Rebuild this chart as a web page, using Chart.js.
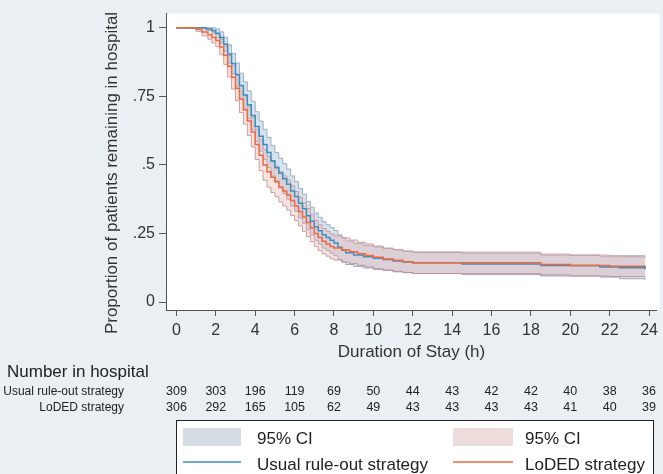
<!DOCTYPE html>
<html>
<head>
<meta charset="utf-8">
<script src="https://cdn.jsdelivr.net/npm/chart.js@4"></script>
<style>
  html, body { margin: 0; padding: 0; background: #eaeff3; }
  #wrap { width: 663px; height: 474px; }
</style>
</head>
<body>
<div id="wrap"><canvas id="km"></canvas></div>
<script>
// Kaplan-Meier estimates (hours, proportion still in hospital)
const usualTime = [0,1.5,1.8,2.0,2.2,2.4,2.6,2.8,3.0,3.2,3.4,3.6,3.8,4.0,4.2,4.4,4.6,4.8,5.0,5.2,5.4,5.6,5.8,6.0,6.2,6.4,6.6,6.8,7.0,7.2,7.4,7.6,7.8,8.0,8.2,8.4,8.6,9.0,9.5,10.0,10.5,11.0,11.5,12.0,14.5,18.5,21.5,22.5,23.8];
const usualSurv = [1,.997,.99,.98,.965,.94,.905,.87,.83,.79,.755,.72,.68,.64,.605,.575,.545,.515,.49,.47,.45,.43,.405,.385,.36,.34,.315,.295,.275,.26,.245,.235,.225,.215,.2,.19,.18,.172,.165,.16,.155,.15,.146,.143,.139,.133,.128,.125,.12];
const usualLow  = [1,.991,.979,.964,.945,.914,.872,.833,.788,.745,.707,.67,.628,.586,.55,.52,.49,.46,.435,.415,.395,.375,.35,.331,.306,.287,.263,.244,.225,.211,.197,.188,.178,.169,.155,.146,.137,.13,.124,.119,.115,.11,.107,.104,.1,.095,.091,.085,.08];
const usualHigh = [1,1,1,.996,.985,.966,.938,.907,.872,.835,.803,.77,.732,.694,.66,.63,.6,.57,.545,.525,.505,.485,.46,.439,.414,.393,.367,.346,.325,.309,.293,.282,.272,.261,.245,.234,.223,.214,.206,.201,.195,.19,.185,.182,.178,.171,.165,.165,.162];

const lodedTime = [0,1.0,1.3,1.6,1.8,2.0,2.2,2.4,2.6,2.8,3.0,3.2,3.4,3.6,3.8,4.0,4.2,4.4,4.6,4.8,5.0,5.2,5.4,5.6,5.8,6.0,6.2,6.4,6.6,6.8,7.0,7.2,7.4,7.6,7.8,8.0,8.4,8.8,9.2,9.6,10.0,10.5,11.0,11.5,12.0,18.5,20.0,22.0,23.8];
const lodedSurv = [1,.995,.985,.975,.965,.954,.93,.9,.86,.82,.78,.74,.7,.66,.62,.575,.535,.5,.475,.455,.44,.42,.405,.39,.37,.35,.33,.31,.29,.27,.25,.235,.222,.212,.203,.197,.19,.183,.176,.17,.163,.157,.152,.147,.143,.137,.133,.131,.128];
const lodedLow  = [1,.987,.971,.958,.945,.931,.902,.867,.821,.777,.734,.691,.649,.607,.566,.52,.479,.444,.419,.399,.384,.365,.35,.335,.316,.297,.278,.258,.239,.22,.202,.188,.176,.167,.158,.153,.146,.14,.134,.128,.122,.117,.112,.108,.104,.099,.095,.093,.09];
const lodedHigh = [1,1,.999,.992,.985,.977,.958,.933,.899,.863,.826,.789,.751,.713,.674,.63,.591,.556,.531,.511,.496,.475,.46,.445,.424,.403,.382,.362,.341,.32,.298,.282,.268,.257,.248,.241,.234,.226,.218,.212,.204,.197,.192,.186,.182,.175,.171,.169,.166];

// number at risk table
const riskTimes = [0,2,4,6,8,10,12,14,16,18,20,22,24];
const usualRisk = [309,303,196,119,69,50,44,43,42,42,40,38,36];
const lodedRisk = [306,292,165,105,62,49,43,43,43,43,41,40,39];
const groupNames = ['Usual rule-out strategy', 'LoDED strategy'];

const xTicks = [0,2,4,6,8,10,12,14,16,18,20,22,24];
const yTicks = [0, 0.25, 0.5, 0.75, 1];
const yTickLabels = ['0', '.25', '.5', '.75', '1'];
const yTitle = 'Proportion of patients remaining in hospital';

const FONT = '"Liberation Sans", Arial, sans-serif';
const blueLine = '#3a8fc2';
const redLine = '#ec6a3f';

function pts(t, v) {
  return t.map((x, i) => ({ x: x, y: v[i] }));
}

Chart.defaults.font.family = FONT;
Chart.defaults.color = '#333';

const decor = {
  id: 'decor',
  beforeDraw(chart) {
    const { ctx, chartArea: a } = chart;
    ctx.save();
    ctx.fillStyle = '#eaeff3';
    ctx.fillRect(0, 0, chart.width, chart.height);
    ctx.fillStyle = '#ffffff';
    ctx.fillRect(a.left, a.top, a.right - a.left + 3, a.bottom - a.top);
    ctx.restore();
  },
  afterDraw(chart) {
    const ctx = chart.ctx;
    const xs = chart.scales.x;
    ctx.save();
    ctx.fillStyle = '#222';
    ctx.textBaseline = 'middle';

    // y axis title (sits a little below the plot centre in the original)
    ctx.save();
    ctx.translate(112, 173);
    ctx.rotate(-Math.PI / 2);
    ctx.font = '17px ' + FONT;
    ctx.textAlign = 'center';
    ctx.fillStyle = '#333';
    ctx.fillText(yTitle, 0, 0);
    ctx.restore();

    // number in hospital table
    ctx.font = '17px ' + FONT;
    ctx.textAlign = 'left';
    ctx.fillText('Number in hospital', 7, 372);
    ctx.font = '12px ' + FONT;
    ctx.textAlign = 'right';
    ctx.fillText(groupNames[0], 124, 392);
    ctx.fillText(groupNames[1], 124, 408);
    ctx.font = '12.5px ' + FONT;
    ctx.textAlign = 'center';
    riskTimes.forEach((t, i) => {
      const px = xs.getPixelForValue(t);
      ctx.fillText(String(usualRisk[i]), px, 392);
      ctx.fillText(String(lodedRisk[i]), px, 408);
    });

    // legend box
    ctx.fillStyle = '#ffffff';
    ctx.fillRect(176, 420, 477, 60);
    ctx.strokeStyle = '#222';
    ctx.lineWidth = 1;
    ctx.strokeRect(176.5, 420.5, 477, 60);

    ctx.fillStyle = '#d6dce4';
    ctx.fillRect(183, 428, 58, 18);
    ctx.fillStyle = '#eddcdc';
    ctx.fillRect(453, 428, 60, 18);

    ctx.lineWidth = 1.5;
    ctx.strokeStyle = blueLine;
    ctx.beginPath(); ctx.moveTo(183, 462); ctx.lineTo(241, 462); ctx.stroke();
    ctx.strokeStyle = redLine;
    ctx.beginPath(); ctx.moveTo(453, 462); ctx.lineTo(513, 462); ctx.stroke();

    ctx.fillStyle = '#222';
    ctx.font = '17px ' + FONT;
    ctx.textAlign = 'left';
    ctx.fillText('95% CI', 257, 439);
    ctx.fillText('95% CI', 525, 439);
    ctx.fillText(groupNames[0], 257, 465);
    ctx.fillText(groupNames[1], 525, 465);
    ctx.restore();
  }
};

new Chart(document.getElementById('km'), {
  type: 'line',
  data: {
    datasets: [
      {
        label: groupNames[1],
        data: pts(lodedTime, lodedSurv),
        borderColor: redLine,
        borderWidth: 1.5,
        stepped: true,
        pointRadius: 0,
        fill: false,
        order: 0
      },
      {
        label: groupNames[0],
        data: pts(usualTime, usualSurv),
        borderColor: blueLine,
        borderWidth: 1.5,
        stepped: true,
        pointRadius: 0,
        fill: false,
        order: 1
      },
      {
        label: 'LoDED low',
        data: pts(lodedTime, lodedLow),
        borderColor: 'rgba(185,140,145,0.8)',
        borderWidth: 1,
        backgroundColor: 'rgba(235,170,170,0.35)',
        stepped: true,
        pointRadius: 0,
        fill: '+1',
        order: 2
      },
      {
        label: 'LoDED high',
        data: pts(lodedTime, lodedHigh),
        borderColor: 'rgba(185,140,145,0.8)',
        borderWidth: 1,
        stepped: true,
        pointRadius: 0,
        fill: false,
        order: 3
      },
      {
        label: 'Usual low',
        data: pts(usualTime, usualLow),
        borderColor: 'rgba(140,150,170,0.8)',
        borderWidth: 1,
        backgroundColor: 'rgba(150,185,215,0.4)',
        stepped: true,
        pointRadius: 0,
        fill: '+1',
        order: 4
      },
      {
        label: 'Usual high',
        data: pts(usualTime, usualHigh),
        borderColor: 'rgba(140,150,170,0.8)',
        borderWidth: 1,
        stepped: true,
        pointRadius: 0,
        fill: false,
        order: 5
      }
    ]
  },
  options: {
    responsive: true,
    maintainAspectRatio: false,
    animation: false,
    layout: { padding: { left: 0, top: 8, right: 3, bottom: 110 } },
    plugins: {
      legend: { display: false },
      tooltip: { enabled: false }
    },
    scales: {
      x: {
        type: 'linear',
        min: -0.53,
        max: 24.4,
        afterBuildTicks: s => { s.ticks = xTicks.map(v => ({ value: v })); },
        afterFit: s => { s.height = 54; },
        ticks: { font: { size: 16 }, padding: 5, maxRotation: 0, autoSkip: false, color: '#333' },
        grid: { drawOnChartArea: false, tickLength: 6, color: '#555' },
        border: { color: '#555', width: 1 },
        title: { display: true, text: 'Duration of Stay (h)', font: { size: 17 }, color: '#333', padding: { top: 0, bottom: 1 } }
      },
      y: {
        min: -0.029,
        max: 1.052,
        afterBuildTicks: s => { s.ticks = yTicks.map(v => ({ value: v })); },
        afterFit: s => { s.width = 166; },
        ticks: {
          font: { size: 16 },
          padding: 4,
          color: '#333',
          callback: v => yTickLabels[yTicks.indexOf(v)]
        },
        grid: { drawOnChartArea: false, tickLength: 7, color: '#555' },
        border: { color: '#555', width: 1 },
        title: { display: false }
      }
    }
  },
  plugins: [decor]
});
</script>
</body>
</html>
